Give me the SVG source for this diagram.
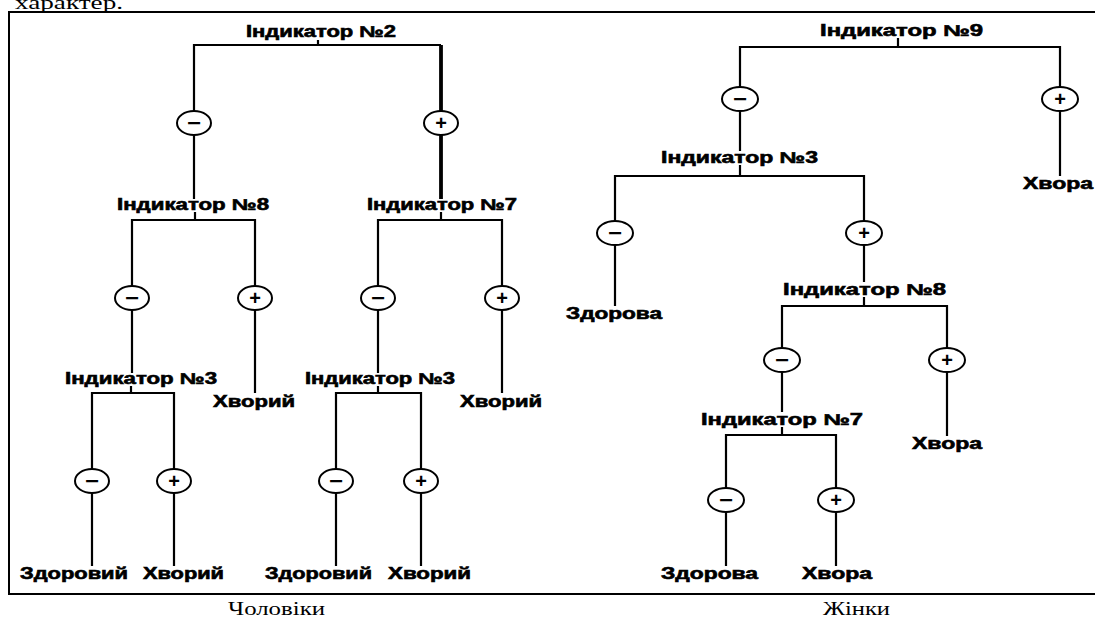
<svg xmlns="http://www.w3.org/2000/svg" width="1095" height="621" viewBox="0 0 1095 621">
<style>
.lbl{font-family:"Liberation Sans",Arial,sans-serif;font-weight:bold;font-size:16px;fill:#000;stroke:#000;stroke-width:0.6}
.cap{font-family:"Liberation Serif","Times New Roman",serif;font-size:19px;fill:#000}
.ln{stroke:#000;stroke-width:2.2;fill:none}
.thick{stroke-width:3.8}
.frame{stroke:#000;stroke-width:2;fill:none}
.sg ellipse{fill:#fff;stroke:#000;stroke-width:2}
.sym{font-family:"Liberation Sans",Arial,sans-serif;font-weight:bold;font-size:20px;text-anchor:middle;fill:#000}
</style>
<rect width="1095" height="621" fill="#fff"/>
<text class="cap" x="15" y="9" textLength="108" lengthAdjust="spacingAndGlyphs">характер.</text>
<path class="frame" d="M1097,12 H9 V594 H1097"/>
<g id="connectors">
<path class="ln" d="M318,40 V45 M194,199 V45 H441"/>
<path class="ln thick" d="M441,45 V199"/>
<path class="ln" d="M195,212 V220 M132,373 V220 H255 V393"/>
<path class="ln" d="M441,212 V220 M378,373 V220 H502 V393"/>
<path class="ln" d="M131,386 V393 M92,566 V393 H174 V566"/>
<path class="ln" d="M378,386 V393 M336,566 V393 H421 V566"/>
<path class="ln" d="M898,38 V47 M740,151 V47 H1060 V176"/>
<path class="ln" d="M740,165 V176 M615,306 V176 H864 V282"/>
<path class="ln" d="M864,297 V306 M782,412 V306 H947 V436"/>
<path class="ln" d="M782,427 V435 M726,566 V435 H836 V566"/>
</g>
<g id="m-ind2"><text class="lbl" x="246" y="37" textLength="150" lengthAdjust="spacingAndGlyphs">Індикатор №2</text></g>
<g id="m-ind8"><text class="lbl" x="117" y="210" textLength="152" lengthAdjust="spacingAndGlyphs">Індикатор №8</text></g>
<g id="m-ind7"><text class="lbl" x="367" y="210" textLength="150" lengthAdjust="spacingAndGlyphs">Індикатор №7</text></g>
<g id="m-ind3a"><text class="lbl" x="65" y="384" textLength="152" lengthAdjust="spacingAndGlyphs">Індикатор №3</text></g>
<g id="m-ind3b"><text class="lbl" x="305" y="384" textLength="150" lengthAdjust="spacingAndGlyphs">Індикатор №3</text></g>
<g id="m-sick1"><text class="lbl" x="213" y="407" textLength="82" lengthAdjust="spacingAndGlyphs">Хворий</text></g>
<g id="m-sick2"><text class="lbl" x="460" y="407" textLength="82" lengthAdjust="spacingAndGlyphs">Хворий</text></g>
<g id="m-healthy1"><text class="lbl" x="20" y="579" textLength="108" lengthAdjust="spacingAndGlyphs">Здоровий</text></g>
<g id="m-sick3"><text class="lbl" x="143" y="579" textLength="81" lengthAdjust="spacingAndGlyphs">Хворий</text></g>
<g id="m-healthy2"><text class="lbl" x="265" y="579" textLength="107" lengthAdjust="spacingAndGlyphs">Здоровий</text></g>
<g id="m-sick4"><text class="lbl" x="388" y="579" textLength="83" lengthAdjust="spacingAndGlyphs">Хворий</text></g>
<g id="w-ind9"><text class="lbl" x="820" y="36" textLength="163" lengthAdjust="spacingAndGlyphs">Індикатор №9</text></g>
<g id="w-sick1"><text class="lbl" x="1023" y="189" textLength="70" lengthAdjust="spacingAndGlyphs">Хвора</text></g>
<g id="w-ind3"><text class="lbl" x="661" y="163" textLength="157" lengthAdjust="spacingAndGlyphs">Індикатор №3</text></g>
<g id="w-healthy1"><text class="lbl" x="566" y="319" textLength="96" lengthAdjust="spacingAndGlyphs">Здорова</text></g>
<g id="w-ind8"><text class="lbl" x="783" y="295" textLength="163" lengthAdjust="spacingAndGlyphs">Індикатор №8</text></g>
<g id="w-ind7"><text class="lbl" x="701" y="425" textLength="162" lengthAdjust="spacingAndGlyphs">Індикатор №7</text></g>
<g id="w-sick2"><text class="lbl" x="912" y="449" textLength="70" lengthAdjust="spacingAndGlyphs">Хвора</text></g>
<g id="w-healthy2"><text class="lbl" x="661" y="579" textLength="97" lengthAdjust="spacingAndGlyphs">Здорова</text></g>
<g id="w-sick3"><text class="lbl" x="802" y="579" textLength="70" lengthAdjust="spacingAndGlyphs">Хвора</text></g>
<g id="s1" class="sg"><ellipse cx="194" cy="123" rx="17" ry="12"/><text class="sym" x="194" y="130" textLength="14" lengthAdjust="spacingAndGlyphs">−</text></g>
<g id="s2" class="sg"><ellipse cx="441" cy="123" rx="17" ry="12"/><text class="sym" x="441" y="130">+</text></g>
<g id="s3" class="sg"><ellipse cx="132" cy="298" rx="17" ry="12"/><text class="sym" x="132" y="305" textLength="14" lengthAdjust="spacingAndGlyphs">−</text></g>
<g id="s4" class="sg"><ellipse cx="255" cy="298" rx="17" ry="12"/><text class="sym" x="255" y="305">+</text></g>
<g id="s5" class="sg"><ellipse cx="378" cy="298" rx="17" ry="12"/><text class="sym" x="378" y="305" textLength="14" lengthAdjust="spacingAndGlyphs">−</text></g>
<g id="s6" class="sg"><ellipse cx="502" cy="298" rx="17" ry="12"/><text class="sym" x="502" y="305">+</text></g>
<g id="s7" class="sg"><ellipse cx="92" cy="481" rx="17" ry="12"/><text class="sym" x="92" y="488" textLength="14" lengthAdjust="spacingAndGlyphs">−</text></g>
<g id="s8" class="sg"><ellipse cx="174" cy="481" rx="17" ry="12"/><text class="sym" x="174" y="488">+</text></g>
<g id="s9" class="sg"><ellipse cx="336" cy="481" rx="17" ry="12"/><text class="sym" x="336" y="488" textLength="14" lengthAdjust="spacingAndGlyphs">−</text></g>
<g id="s10" class="sg"><ellipse cx="421" cy="481" rx="17" ry="12"/><text class="sym" x="421" y="488">+</text></g>
<g id="s11" class="sg"><ellipse cx="740" cy="99" rx="18" ry="12"/><text class="sym" x="740" y="106" textLength="14" lengthAdjust="spacingAndGlyphs">−</text></g>
<g id="s12" class="sg"><ellipse cx="1060" cy="99" rx="18" ry="12"/><text class="sym" x="1060" y="106">+</text></g>
<g id="s13" class="sg"><ellipse cx="615" cy="233" rx="18" ry="12"/><text class="sym" x="615" y="240" textLength="14" lengthAdjust="spacingAndGlyphs">−</text></g>
<g id="s14" class="sg"><ellipse cx="864" cy="233" rx="18" ry="12"/><text class="sym" x="864" y="240">+</text></g>
<g id="s15" class="sg"><ellipse cx="782" cy="360" rx="18" ry="12"/><text class="sym" x="782" y="367" textLength="14" lengthAdjust="spacingAndGlyphs">−</text></g>
<g id="s16" class="sg"><ellipse cx="947" cy="360" rx="18" ry="12"/><text class="sym" x="947" y="367">+</text></g>
<g id="s17" class="sg"><ellipse cx="726" cy="500" rx="18" ry="12"/><text class="sym" x="726" y="507" textLength="14" lengthAdjust="spacingAndGlyphs">−</text></g>
<g id="s18" class="sg"><ellipse cx="836" cy="500" rx="18" ry="12"/><text class="sym" x="836" y="507">+</text></g>
<text class="cap" x="228" y="615" textLength="97" lengthAdjust="spacingAndGlyphs">Чоловіки</text>
<text class="cap" x="823" y="615" textLength="67" lengthAdjust="spacingAndGlyphs">Жінки</text>
</svg>
